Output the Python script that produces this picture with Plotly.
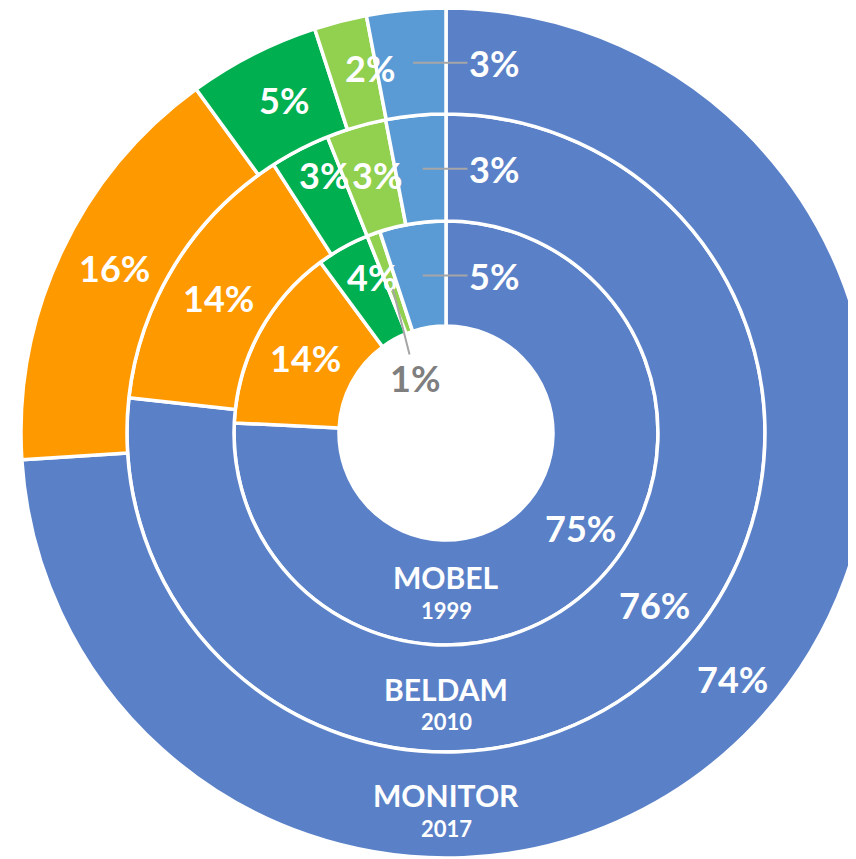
import math

import plotly.graph_objects as go

# categories (clockwise from 12 o'clock) and ring data
categories = ["Catégorie 1", "Catégorie 2", "Catégorie 3", "Catégorie 4", "Catégorie 5"]
ring_names = ["MOBEL", "BELDAM", "MONITOR"]
ring_years = ["1999", "2010", "2017"]
mobel_1999 = [75, 14, 4, 1, 5]
beldam_2010 = [76, 14, 3, 3, 3]
monitor_2017 = [74, 16, 5, 2, 3]

colors = ["#5A81C8", "#FF9900", "#00B050", "#92D050", "#5B9BD5"]

# page has an 8px body margin, so the figure is offset by it
W, H = 884, 860
CX, CY = 438, 425
RADII = [107, 212, 319, 425]
FONT = "Lato"

# small text nudges (px) so labels sit like the original, keyed (ring, slice)
label_nudge = {
    (0, 0): (24, 20), (0, 2): (4, 17),
    (1, 0): (31, 26), (1, 1): (-2, -5), (1, 2): (0, 22), (1, 3): (6, 3),
    (2, 0): (15, 9), (2, 1): (5, 7), (2, 2): (7, 2), (2, 3): (17, 5),
}
title_shift = [(16, -18), (10, -23), (10, -23)]


def to_paper(px, py):
    return px / W, 1 - py / H


fig = go.Figure()
annotations = []

for i, values in enumerate([mobel_1999, beldam_2010, monitor_2017]):
    r_in, r_out = RADII[i], RADII[i + 1]
    fig.add_trace(
        go.Pie(
            labels=categories,
            values=values,
            name=f"{ring_names[i]} {ring_years[i]}",
            sort=False,
            direction="clockwise",
            rotation=0,
            hole=r_in / r_out,
            textinfo="none",
            marker=dict(colors=colors, line=dict(color="white", width=3.5)),
            domain=dict(
                x=[(CX - r_out) / W, (CX + r_out) / W],
                y=[(H - CY - r_out) / H, (H - CY + r_out) / H],
            ),
            showlegend=False,
            hovertemplate="%{label}: %{value}%<extra>" + ring_names[i] + "</extra>",
        )
    )

    # percentage labels at the middle of each slice
    total = sum(values)
    rm = (r_in + r_out) / 2
    cum = 0
    for j, v in enumerate(values):
        theta = 2 * math.pi * (cum + v / 2) / total
        cum += v
        px = CX + rm * math.sin(theta)
        py = CY - rm * math.cos(theta)
        x, y = to_paper(px, py)
        text = f"{v}%"
        if j == len(values) - 1:
            # callout to the right of the 12 o'clock line
            annotations.append(dict(
                x=x, y=y, xref="paper", yref="paper", text=text,
                showarrow=True, ax=CX + 48 - px, ay=0, arrowhead=0, arrowwidth=2,
                arrowcolor="#A6A6A6", standoff=2,
                font=dict(family=FONT, size=36, color="white", weight="bold"),
            ))
        elif v <= 1:
            # tiny slice: callout into the hole
            annotations.append(dict(
                x=x, y=y, xref="paper", yref="paper", text=text,
                showarrow=True, ax=24, ay=95, arrowhead=0, arrowwidth=2,
                arrowcolor="#A6A6A6", standoff=6,
                font=dict(family=FONT, size=36, color="#7F7F7F", weight="bold"),
            ))
        else:
            dx, dy = label_nudge.get((i, j), (0, 0))
            annotations.append(dict(
                x=x, y=y, xref="paper", yref="paper", text=text,
                showarrow=False, xanchor="center", yanchor="middle",
                xshift=dx, yshift=dy,
                font=dict(family=FONT, size=36, color="white", weight="bold"),
            ))

    # ring title at the bottom of the ring
    x, y = to_paper(CX, CY + rm)
    s_name, s_year = title_shift[i]
    annotations.append(dict(
        x=x, y=y, xref="paper", yref="paper", text=ring_names[i],
        showarrow=False, xanchor="center", yanchor="middle", yshift=s_name,
        font=dict(family=FONT, size=30, color="white", weight="bold"),
    ))
    annotations.append(dict(
        x=x, y=y, xref="paper", yref="paper", text=ring_years[i],
        showarrow=False, xanchor="center", yanchor="middle", yshift=s_year,
        font=dict(family=FONT, size=22, color="white", weight="bold"),
    ))

fig.update_layout(
    width=W,
    height=H,
    margin=dict(l=0, r=0, t=0, b=0),
    paper_bgcolor="white",
    plot_bgcolor="white",
    annotations=annotations,
)

fig.write_html("out.html")
